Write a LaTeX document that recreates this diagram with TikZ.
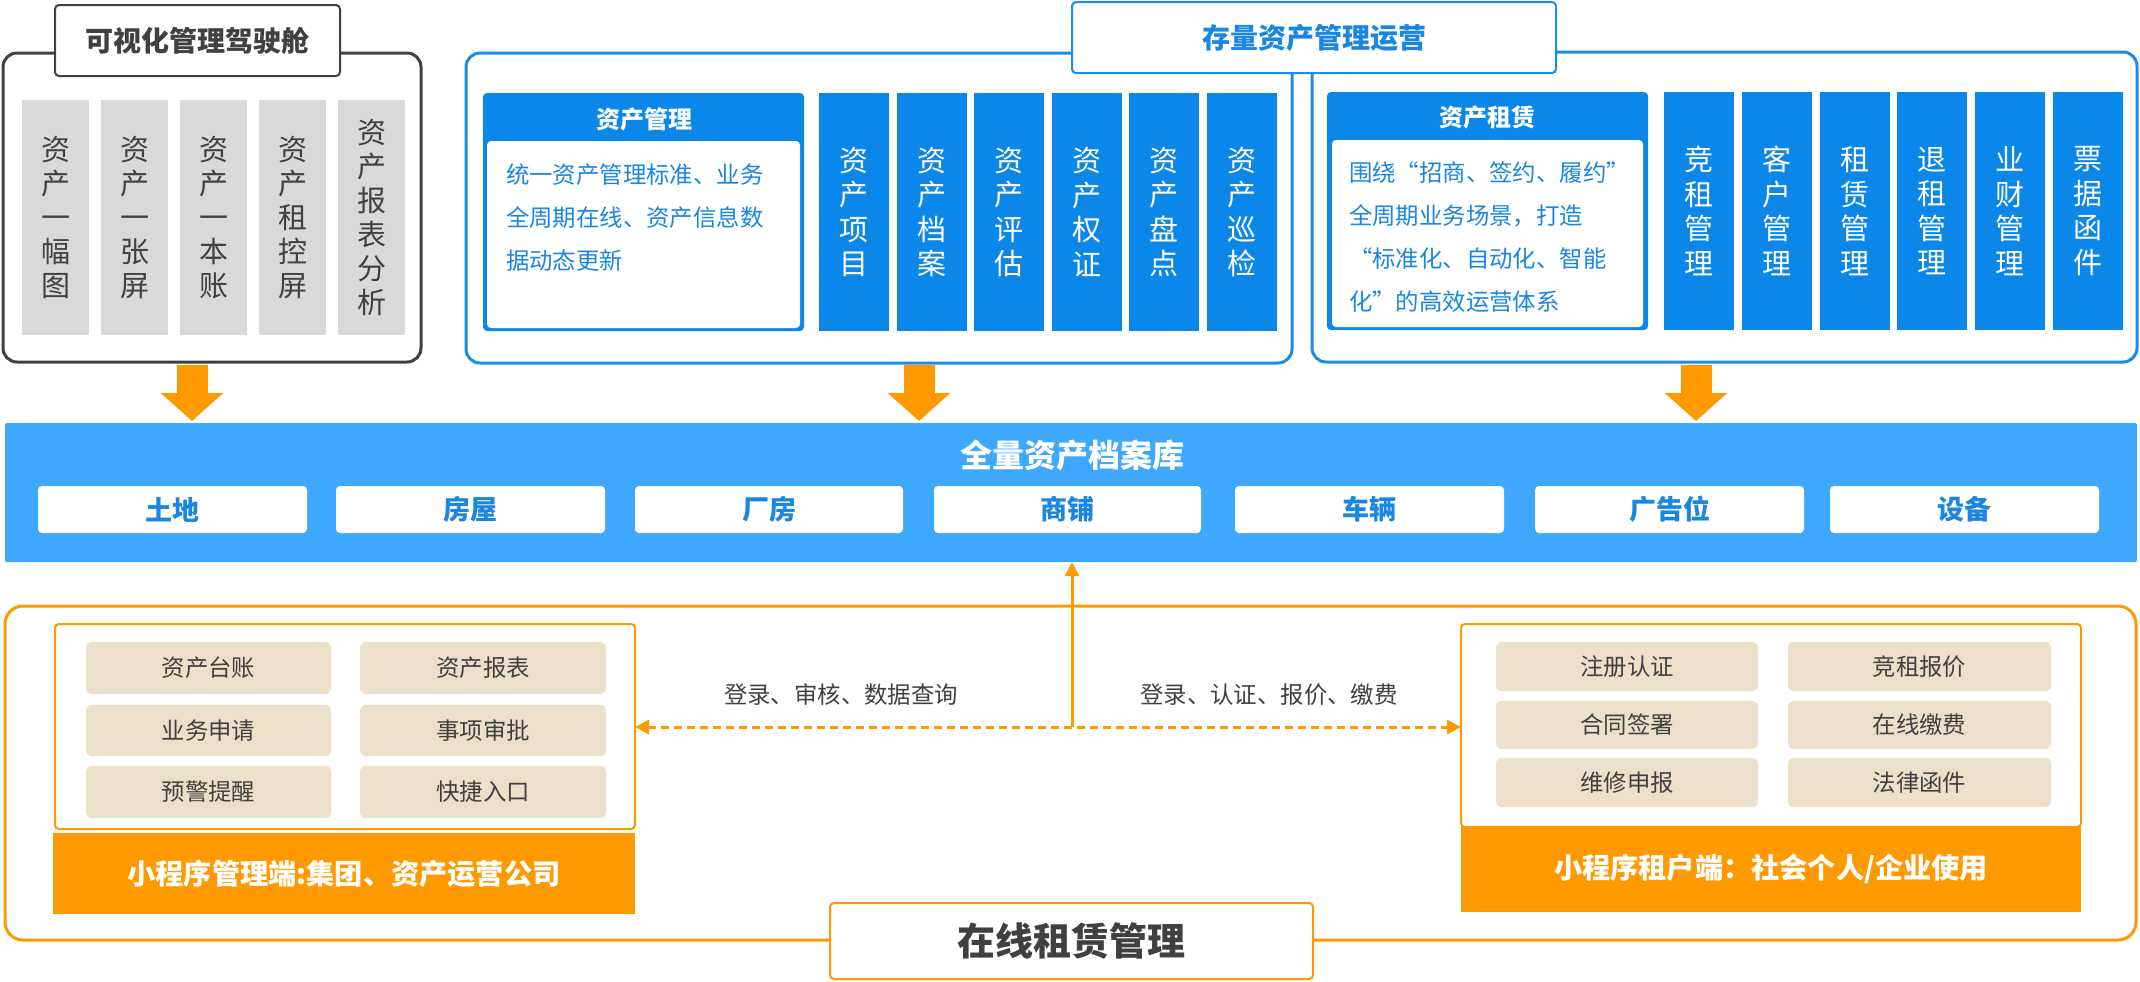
\documentclass[tikz,border=0pt]{standalone}
\usepackage{fontspec}
\setmainfont{Noto Sans CJK SC}
\usetikzlibrary{arrows.meta}
\definecolor{dk}{HTML}{404040}
\definecolor{bl}{HTML}{0B86E9}
\definecolor{blf}{HTML}{1C8BEA}
\definecolor{bltxt}{HTML}{1A86E3}
\definecolor{bandc}{HTML}{3EA8FF}
\definecolor{og}{HTML}{FF9900}
\definecolor{beigec}{HTML}{EDE0CA}
\definecolor{gr}{HTML}{D9D9D9}
\newcommand\bx[7]{%
  \pgfmathsetmacro\bxcx{((#2)+(#4))/2}\pgfmathsetmacro\bxcy{((#3)+(#5))/2}%
  \pgfmathsetmacro\bxw{((#4)-(#2))*0.5}\pgfmathsetmacro\bxh{((#5)-(#3))*0.5}%
  \node[#6, minimum width=\bxw pt, minimum height=\bxh pt] (#1) at (\bxcx,\bxcy) {#7};}
\tikzset{
  grayframe/.style={draw=dk, line width=1.5pt, rounded corners=7pt},
  titleL/.style={draw=dk, fill=white, line width=1pt, rounded corners=2pt, text=dk, font=\bfseries\fontsize{14pt}{16pt}\selectfont},
  graybar/.style={fill=gr, text=dk, font=\fontsize{14.5pt}{17pt}\selectfont},
  blueframe/.style={draw=blf, line width=1.5pt, rounded corners=7pt},
  titleB/.style={draw=blf, fill=white, line width=1pt, rounded corners=2pt, text=bltxt, font=\bfseries\fontsize{14pt}{16pt}\selectfont},
  cardhead/.style={fill=bl, rounded corners=2pt},
  cardbody/.style={fill=white, rounded corners=2pt},
  cardtitle/.style={text=white, font=\bfseries\fontsize{12pt}{14pt}\selectfont},
  bodytxt/.style={text=bltxt, align=left, font=\fontsize{11.7pt}{21.5pt}\selectfont},
  bluebar/.style={fill=bl, text=white, font=\fontsize{14.5pt}{17.25pt}\selectfont},
  bandbg/.style={fill=bandc, rounded corners=1pt},
  bandtitle/.style={text=white, font=\bfseries\fontsize{16pt}{18pt}\selectfont},
  bandbox/.style={fill=white, rounded corners=2pt, text=bltxt, font=\bfseries\fontsize{13.5pt}{15pt}\selectfont},
  orframe/.style={draw=og, line width=1.5pt, rounded corners=9pt},
  ortitle/.style={draw=og, fill=white, line width=1pt, rounded corners=2pt, text=dk, font=\bfseries\fontsize{19pt}{21pt}\selectfont},
  orinner/.style={draw=og, fill=white, line width=1pt, rounded corners=2pt},
  beigebox/.style={fill=beigec, rounded corners=2.5pt, text=dk, font=\fontsize{11.7pt}{14pt}\selectfont},
  orbar/.style={fill=og, text=white, font=\bfseries\fontsize{14.1pt}{16pt}\selectfont},
  flowlabel/.style={text=dk, font=\fontsize{11.7pt}{14pt}\selectfont},
  bigarrow/.style={draw=og, line width=15.5pt, -{Triangle[length=14pt,width=30.5pt]}},
  upflow/.style={draw=og, line width=1.5pt, -{Triangle[length=7pt,width=7pt]}},
  dflow/.style={draw=og, line width=1.5pt, dash pattern=on 4pt off 2.5pt, {Triangle[length=7pt,width=7pt]}-{Triangle[length=7pt,width=7pt]}}
}
\begin{document}
\begin{tikzpicture}[x=0.5pt,y=-0.5pt, every node/.style={inner sep=0pt, outer sep=0pt, align=center}]
\useasboundingbox (0,0) rectangle (2140,981);

% ---------- left panel ----------
\bx{lp}{3}{53}{421}{362}{grayframe}{}
\bx{lpt}{55}{5}{340}{76}{titleL}{可视化管理驾驶舱}
\foreach \i/\t in {0/{资\\产\\一\\幅\\图},1/{资\\产\\一\\张\\屏},2/{资\\产\\一\\本\\账},3/{资\\产\\租\\控\\屏},4/{资\\产\\报\\表\\分\\析}}{
  \bx{lb\i}{22+79*\i}{100}{89+79*\i}{335}{graybar}{\t}
}

% ---------- middle & right panels ----------
\bx{mp}{466}{53}{1292}{363}{blueframe}{}
\bx{rp}{1312}{52}{2137}{362}{blueframe}{}
\bx{topt}{1072}{2}{1556}{73}{titleB}{存量资产管理运营}

\bx{amc}{483}{93}{804}{331}{cardhead}{}
\bx{amb}{487}{141}{800}{328}{cardbody}{}
\node[cardtitle] (amt) at (644,119) {资产管理};
\node[bodytxt, anchor=west] (amx) at (506,217.5) {统一资产管理标准、业务\\全周期在线、资产信息数\\据动态更新};

\foreach \i/\t in {0/{资\\产\\项\\目},1/{资\\产\\档\\案},2/{资\\产\\评\\估},3/{资\\产\\权\\证},4/{资\\产\\盘\\点},5/{资\\产\\巡\\检}}{
  \bx{mb\i}{819+77.5*\i}{93}{889+77.5*\i}{331}{bluebar}{\t}
}

\bx{alc}{1327}{92}{1648}{330}{cardhead}{}
\bx{alb}{1332}{140}{1643}{327}{cardbody}{}
\node[cardtitle] (alt) at (1487,117) {资产租赁};
\node[bodytxt, anchor=west] (alx) at (1349,237.5) {围绕“招商、签约、履约”\\全周期业务场景，打造\\“标准化、自动化、智能\\化”的高效运营体系};

\foreach \i/\t in {0/{竞\\租\\管\\理},1/{客\\户\\管\\理},2/{租\\赁\\管\\理},3/{退\\租\\管\\理},4/{业\\财\\管\\理},5/{票\\据\\函\\件}}{
  \bx{rb\i}{1664+77.8*\i}{92}{1734+77.8*\i}{330}{bluebar}{\t}
}

% ---------- big arrows ----------
\coordinate (a1s) at (192,365); \coordinate (a1e) at (192,421);
\coordinate (a2s) at (919,365); \coordinate (a2e) at (919,421);
\coordinate (a3s) at (1696,365); \coordinate (a3e) at (1696,421);
\draw[bigarrow] (a1s) -- (a1e);
\draw[bigarrow] (a2s) -- (a2e);
\draw[bigarrow] (a3s) -- (a3e);

% ---------- band ----------
\bx{band}{5}{423}{2137}{562}{bandbg}{}
\node[bandtitle] (bandt) at (1072,455) {全量资产档案库};
\foreach \a/\b/\t [count=\k] in {38/307/土地,336/605/房屋,635/903/厂房,934/1201/商铺,1235/1504/车辆,1535/1804/广告位,1830/2099/设备}{
  \bx{bb\k}{\a}{486}{\b}{533}{bandbox}{\t}
}

% ---------- bottom ----------
\bx{op}{5}{606}{2136}{940}{orframe}{}
\bx{opt}{830}{903}{1313}{979}{ortitle}{在线租赁管理}

\bx{mgr}{55}{624}{635}{829}{orinner}{}
\bx{mgrbar}{53}{833}{635}{914}{orbar}{小程序管理端:集团、资产运营公司}
\bx{m1}{86}{642}{331}{694}{beigebox}{资产台账}
\bx{m2}{360}{642}{606}{694}{beigebox}{资产报表}
\bx{m3}{86}{705}{331}{756}{beigebox}{业务申请}
\bx{m4}{360}{705}{606}{756}{beigebox}{事项审批}
\bx{m5}{86}{766}{331}{818}{beigebox}{预警提醒}
\bx{m6}{360}{766}{606}{818}{beigebox}{快捷入口}

\bx{ten}{1461}{624}{2081}{827}{orinner}{}
\bx{tenbar}{1461}{826}{2081}{912}{orbar}{小程序租户端：社会个人/企业使用}
\bx{t1}{1496}{642}{1758}{691}{beigebox}{注册认证}
\bx{t2}{1788}{642}{2051}{691}{beigebox}{竞租报价}
\bx{t3}{1496}{701}{1758}{749}{beigebox}{合同签署}
\bx{t4}{1788}{701}{2051}{749}{beigebox}{在线缴费}
\bx{t5}{1496}{758}{1758}{807}{beigebox}{维修申报}
\bx{t6}{1788}{758}{2051}{807}{beigebox}{法律函件}

\coordinate (jn) at (1072,727);
\draw[upflow] (jn) -- (band.south -| jn);
\draw[dflow] (mgr.east |- jn) -- (ten.west |- jn);
\node[flowlabel] (fl1) at (841,695) {登录、审核、数据查询};
\node[flowlabel] (fl2) at (1269,695) {登录、认证、报价、缴费};
\end{tikzpicture}
\end{document}
